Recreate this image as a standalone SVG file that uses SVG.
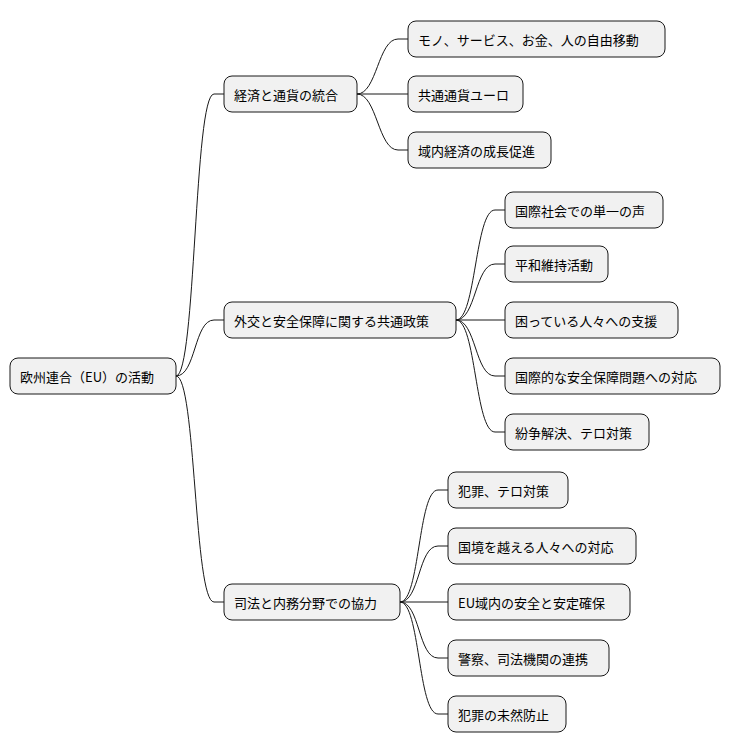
<svg xmlns="http://www.w3.org/2000/svg" width="732" height="752" viewBox="0 0 732 752">
<style>
rect{fill:#f1f1f1;stroke:#181818;stroke-width:1}
text{font-family:"Noto Sans CJK JP","Noto Sans",sans-serif;font-size:13px;fill:#000;dominant-baseline:central}
.c path{fill:none;stroke:#181818;stroke-width:1}
</style>
<rect x="0" y="0" width="732" height="752" style="fill:#fff;stroke:none"/>
<g class="c">
<path d="M176 376 C196 376 194 94 214 94 L224 94"/>
<path d="M176 376 C196 376 194 320 214 320 L224 320"/>
<path d="M176 376 C196 376 194 602 214 602 L224 602"/>
<path d="M357 94 C377 94 378 39 398 39 L408 39"/>
<path d="M357 94 L408 94"/>
<path d="M357 94 C377 94 378 150 398 150 L408 150"/>
<path d="M456 320 C476 320 475 210 495 210 L505 210"/>
<path d="M456 320 C476 320 475 264 495 264 L505 264"/>
<path d="M456 320 L505 320"/>
<path d="M456 320 C476 320 475 376 495 376 L505 376"/>
<path d="M456 320 C476 320 475 432 495 432 L505 432"/>
<path d="M400 602 C420 602 418 490 438 490 L448 490"/>
<path d="M400 602 C420 602 418 546 438 546 L448 546"/>
<path d="M400 602 L448 602"/>
<path d="M400 602 C420 602 418 658 438 658 L448 658"/>
<path d="M400 602 C420 602 418 714 438 714 L448 714"/>
</g>
<g id="root"><rect x="10" y="358" width="166" height="36" rx="8"/><text x="20" y="376">欧州連合（EU）の活動</text></g>
<g id="n1"><rect x="224" y="76" width="133" height="36" rx="8"/><text x="234" y="94">経済と通貨の統合</text></g>
<g id="n2"><rect x="224" y="302" width="232" height="36" rx="8"/><text x="234" y="320">外交と安全保障に関する共通政策</text></g>
<g id="n3"><rect x="224" y="584" width="176" height="36" rx="8"/><text x="234" y="602">司法と内務分野での協力</text></g>
<g id="n11"><rect x="408" y="21" width="257" height="36" rx="8"/><text x="418" y="39">モノ、サービス、お金、人の自由移動</text></g>
<g id="n12"><rect x="408" y="76" width="115" height="36" rx="8"/><text x="418" y="94">共通通貨ユーロ</text></g>
<g id="n13"><rect x="408" y="132" width="143" height="36" rx="8"/><text x="418" y="150">域内経済の成長促進</text></g>
<g id="n21"><rect x="505" y="192" width="158" height="36" rx="8"/><text x="515" y="210">国際社会での単一の声</text></g>
<g id="n22"><rect x="505" y="246" width="103" height="36" rx="8"/><text x="515" y="264">平和維持活動</text></g>
<g id="n23"><rect x="505" y="302" width="173" height="36" rx="8"/><text x="515" y="320">困っている人々への支援</text></g>
<g id="n24"><rect x="505" y="358" width="215" height="36" rx="8"/><text x="515" y="376">国際的な安全保障問題への対応</text></g>
<g id="n25"><rect x="505" y="414" width="144" height="36" rx="8"/><text x="515" y="432">紛争解決、テロ対策</text></g>
<g id="n31"><rect x="448" y="472" width="120" height="36" rx="8"/><text x="458" y="490">犯罪、テロ対策</text></g>
<g id="n32"><rect x="448" y="528" width="188" height="36" rx="8"/><text x="458" y="546">国境を越える人々への対応</text></g>
<g id="n33"><rect x="448" y="584" width="182" height="36" rx="8"/><text x="458" y="602">EU域内の安全と安定確保</text></g>
<g id="n34"><rect x="448" y="640" width="161" height="36" rx="8"/><text x="458" y="658">警察、司法機関の連携</text></g>
<g id="n35"><rect x="448" y="696" width="118" height="36" rx="8"/><text x="458" y="714">犯罪の未然防止</text></g>
</svg>
